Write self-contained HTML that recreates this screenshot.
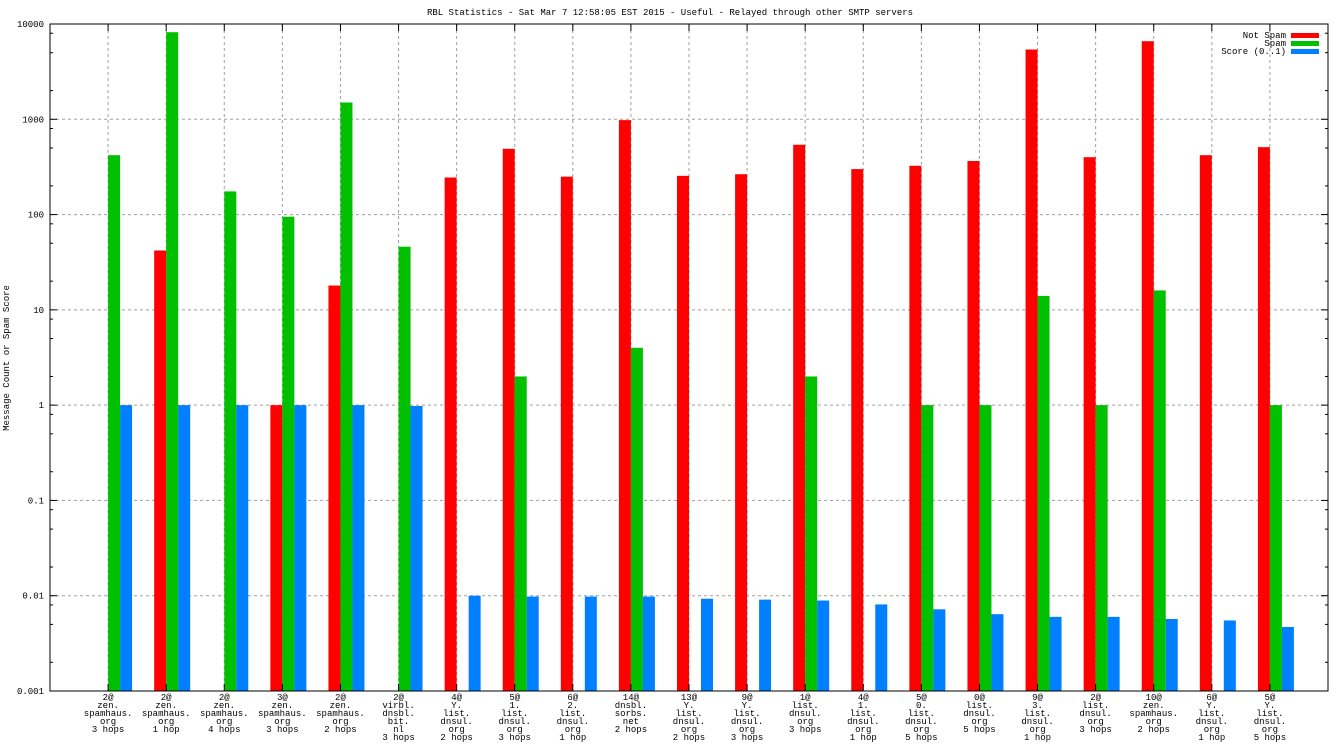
<!DOCTYPE html>
<html><head><meta charset="utf-8"><style>
html,body{margin:0;padding:0;background:#fff}
svg{display:block;font-family:"Liberation Mono","DejaVu Sans Mono",monospace;font-size:9px}
</style></head><body>
<svg id="chart" width="1344" height="756" viewBox="0 0 1344 756">
<text x="670" y="15" text-anchor="middle">RBL Statistics - Sat Mar  7 12:58:05 EST 2015 - Useful - Relayed through other SMTP servers</text>
<text transform="translate(9,358) rotate(-90)" text-anchor="middle">Message Count or Spam Score</text>
<g id="grid"></g><g id="bars"></g><g id="axes"></g>
<g>
<text x="1286" y="38" text-anchor="end">Not Spam</text>
<rect x="1291" y="33" width="28" height="5" fill="#ff0000"/>
<text x="1286" y="46" text-anchor="end">Spam</text>
<rect x="1291" y="41" width="28" height="5" fill="#00c000"/>
<text x="1286" y="54" text-anchor="end">Score (0..1)</text>
<rect x="1291" y="49" width="28" height="5" fill="#0080ff"/>
</g>
</svg>
<script>
const categories=[
["2@","zen.","spamhaus.","org","3 hops"],["2@","zen.","spamhaus.","org","1 hop"],["2@","zen.","spamhaus.","org","4 hops"],
["3@","zen.","spamhaus.","org","3 hops"],["2@","zen.","spamhaus.","org","2 hops"],["2@","virbl.","dnsbl.","bit.","nl","3 hops"],
["4@","Y.","list.","dnsul.","org","2 hops"],["5@","1.","list.","dnsul.","org","3 hops"],["6@","2.","list.","dnsul.","org","1 hop"],
["14@","dnsbl.","sorbs.","net","2 hops"],["13@","Y.","list.","dnsul.","org","2 hops"],["9@","Y.","list.","dnsul.","org","3 hops"],
["1@","list.","dnsul.","org","3 hops"],["4@","1.","list.","dnsul.","org","1 hop"],["5@","0.","list.","dnsul.","org","5 hops"],
["0@","list.","dnsul.","org","5 hops"],["9@","3.","list.","dnsul.","org","1 hop"],["2@","list.","dnsul.","org","3 hops"],
["10@","zen.","spamhaus.","org","2 hops"],["6@","Y.","list.","dnsul.","org","1 hop"],["5@","Y.","list.","dnsul.","org","5 hops"]];
const notSpam=[null,42,null,1,18,null,245,490,250,980,255,265,540,300,325,365,5400,400,6600,420,510];
const spam=[420,8200,175,95,1500,46,null,2,null,4,null,null,2,null,1,1,14,1,16,null,1];
const score=[1,1,1,1,1,0.98,0.01,0.0098,0.0098,0.0098,0.0093,0.0091,0.0089,0.0081,0.0072,0.0064,0.006,0.006,0.0057,0.0055,0.0047];
const yTicks=[0.001,0.01,0.1,1,10,100,1000,10000];
const yTickLabels=["0.001","0.01","0.1","1","10","100","1000","10000"];
const NS="http://www.w3.org/2000/svg";
const L=50,R=1328,T=24,B=691;
function xs(i){return L+(i+1)*(R-L)/(categories.length+1);}
function ys(v){return B-(Math.log10(v)+3)/7*(B-T);}
function mk(tag,attrs,parent){const e=document.createElementNS(NS,tag);for(const k in attrs)e.setAttribute(k,attrs[k]);parent.appendChild(e);return e;}
const grid=document.getElementById('grid'),bars=document.getElementById('bars'),axes=document.getElementById('axes');
yTicks.forEach((v,k)=>{const y=ys(v);
 if(k>0&&k<yTicks.length-1){const g=mk('line',{x1:L,x2:R,y1:y,y2:y,stroke:'#a0a0a0','stroke-dasharray':'3,3'},grid);
 
 }
 const t=mk('text',{x:L-6,y:y+3,'text-anchor':'end'},axes);t.textContent=yTickLabels[k];
 
 
 mk('line',{x1:L,x2:L+7,y1:y,y2:y,stroke:'#000'},axes);mk('line',{x1:R,x2:R-7,y1:y,y2:y,stroke:'#000'},axes);
 if(k<yTicks.length-1)[2,5,8].forEach(m=>{const yy=ys(v*m);mk('line',{x1:L,x2:L+3,y1:yy,y2:yy,stroke:'#000'},axes);mk('line',{x1:R,x2:R-3,y1:yy,y2:yy,stroke:'#000'},axes);});
});
const series=[[notSpam,'#ff0000',-12,'bar-not-spam'],[spam,'#00c000',0,'bar-spam'],[score,'#0080ff',12,'bar-score']];
categories.forEach((lab,i)=>{const x=xs(i);
 const g=mk('line',{x1:x,x2:x,y1:T,y2:B,stroke:'#a0a0a0','stroke-dasharray':'3,3'},grid);
 
 
 mk('line',{x1:x,x2:x,y1:T,y2:T+7,stroke:'#000'},axes);mk('line',{x1:x,x2:x,y1:B,y2:B-7,stroke:'#000'},axes);
 series.forEach(([arr,col,off,name])=>{const v=arr[i];if(v==null)return;const y=ys(v);
  const r=mk('rect',{x:x+off,y:y,width:12,height:B-y,fill:col},bars);
  
  });
 const t=mk('text',{'text-anchor':'middle'},axes);
 
 
 lab.forEach((s,j)=>{const ts=mk('tspan',{x:x,y:700+j*8},t);ts.textContent=s;});
});
mk('rect',{x:L,y:T,width:R-L,height:B-T,fill:'none',stroke:'#000'},axes);
</script>
</body></html>
